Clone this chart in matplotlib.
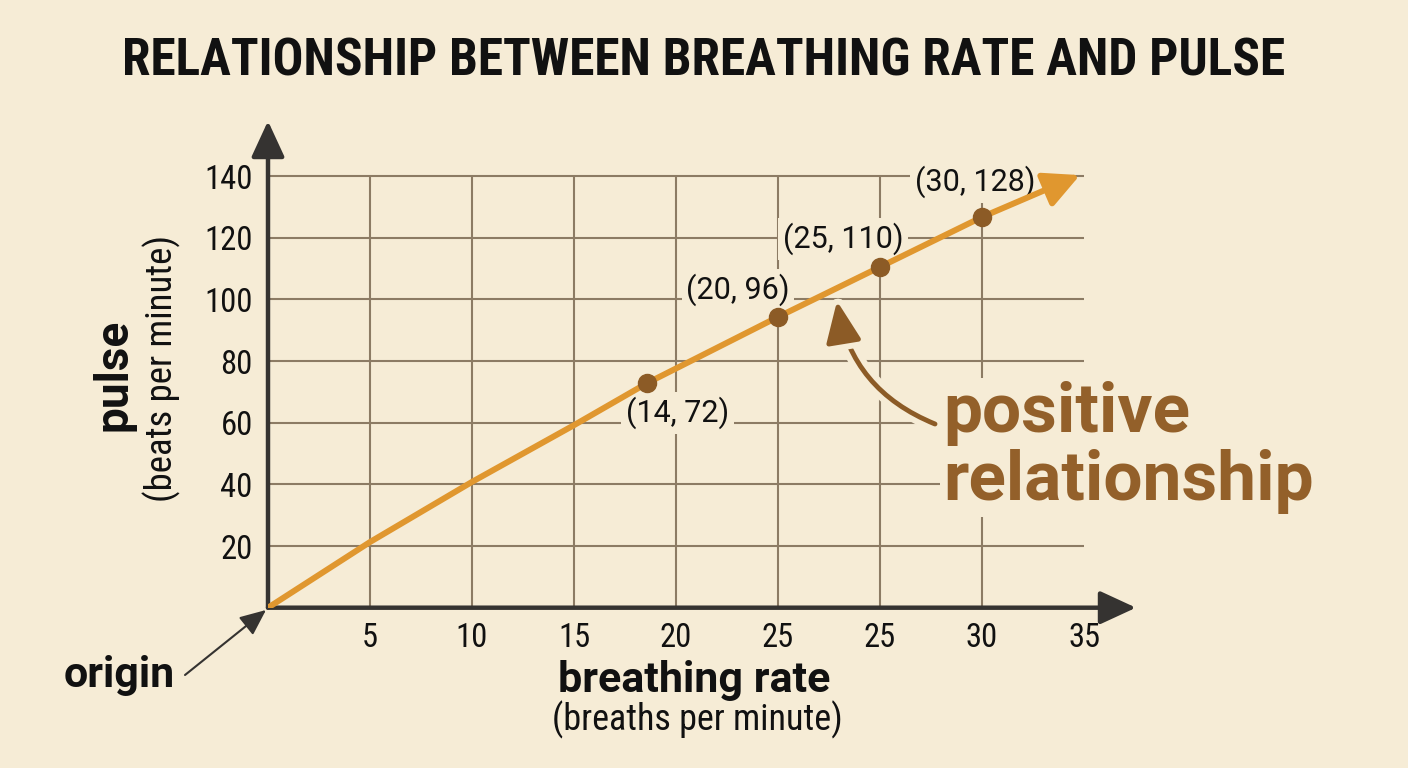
import matplotlib
matplotlib.use('Agg')
import matplotlib.pyplot as plt
from matplotlib import patheffects as pe
from matplotlib import font_manager
from matplotlib.patches import FancyArrowPatch

W, H = 1408, 768
BG = '#F6ECD6'
GRID = '#8C7B64'
AXIS = '#353331'
ORANGE = '#E0972F'
BROWN = '#8C5B26'
TXT_BROWN = '#93602A'

# condensed face if there is one, otherwise plain Roboto set a bit smaller
_names = {f.name for f in font_manager.fontManager.ttflist}
HAS_COND = 'Roboto Condensed' in _names
NARROW = ['Roboto Condensed', 'Roboto'] if HAS_COND else ['Roboto', 'DejaVu Sans']
BOLD = ['Roboto', 'DejaVu Sans']
title_size = 37 if HAS_COND else 33
sub_size = 26 if HAS_COND else 23.5
tick_size = 23.5 if HAS_COND else 21.5

# data (x in grid units, 5 per column)
x_ticks = [5, 10, 15, 20, 25, 30, 35, 40]
x_tick_labels = ['5', '10', '15', '20', '25', '25', '30', '35']
y_ticks = [20, 40, 60, 80, 100, 120, 140]
y_tick_labels = ['20', '40', '60', '80', '100', '120', '140']

curve_x = [0, 5, 10, 15, 18.6, 25, 30, 35, 39.8]
curve_y = [0, 21.3, 40.8, 59.2, 72.9, 94.3, 110.5, 126.7, 140.3]

point_x = [18.6, 25, 30, 35]
point_y = [72.9, 94.3, 110.5, 126.7]
point_labels = ['(14, 72)', '(20, 96)', '(25, 110)', '(30, 128)']

fig = plt.figure(figsize=(W / 100, H / 100), dpi=100, facecolor=BG)

# axes placed so that 5 units = 102 px on x and 20 units = 61.7 px on y
x0, y0 = 268, 607.7
px_x, px_y = 20.4, 3.0833
xmax = (1140 - x0) / px_x
ymax = 160
ax = fig.add_axes([x0 / W, (H - y0) / H, (1140 - x0) / W, ymax * px_y / H])
ax.set_xlim(0, xmax)
ax.set_ylim(0, ymax)
ax.patch.set_visible(False)
for s in ax.spines.values():
    s.set_visible(False)

# grid
ax.hlines(y_ticks, 0, x_ticks[-1], color=GRID, lw=1.5, zorder=1)
ax.vlines(x_ticks[:-1], 0, y_ticks[-1], color=GRID, lw=1.5, zorder=1)

# axis arrows
arr = dict(arrowstyle='-|>,head_length=1.3,head_width=0.6', mutation_scale=17,
           lw=3.2, color=AXIS, shrinkA=0, shrinkB=0)
ax.annotate('', xy=(0, (y0 - 121) / px_y), xytext=(0, 0), arrowprops=arr,
            annotation_clip=False, zorder=2)
ax.annotate('', xy=((1136 - x0) / px_x, 0), xytext=(0, 0), arrowprops=arr,
            annotation_clip=False, zorder=2)

# ticks
ax.set_xticks(x_ticks, x_tick_labels)
ax.set_yticks(y_ticks, y_tick_labels)
ax.tick_params(length=0, labelsize=tick_size, colors='#111111')
ax.tick_params(axis='x', pad=10)
ax.tick_params(axis='y', pad=11)
for lab in ax.get_xticklabels() + ax.get_yticklabels():
    lab.set_family(NARROW)

# point labels sit under the line so their backing only hides grid
offsets = [(30, -30), (-40, 27), (-37, 28), (-7, 35)]
for px, py, lbl, off in zip(point_x, point_y, point_labels, offsets):
    ax.annotate(lbl, (px, py), xytext=off, textcoords='offset pixels',
                ha='center', va='center', fontsize=22, family=BOLD,
                color='#111111', zorder=2.5,
                bbox=dict(boxstyle='square,pad=0.15', fc=BG, ec='none'))

# orange curve with arrow end
ax.plot(curve_x[:-1], curve_y[:-1], color=ORANGE, lw=4.3,
        solid_capstyle='round', solid_joinstyle='round', zorder=3)
ax.annotate('', xy=(curve_x[-1], curve_y[-1]), xytext=(curve_x[-2], curve_y[-2]),
            arrowprops=dict(arrowstyle='-|>,head_length=1.2,head_width=0.6',
                            mutation_scale=18, lw=4.3, color=ORANGE,
                            shrinkA=0, shrinkB=0), zorder=3)

ax.plot(point_x, point_y, 'o', ms=13, color=BROWN, zorder=4)

# curved pointer to the line
ax.annotate('', xy=((837 - x0) / px_x, (y0 - 301) / px_y),
            xytext=((935 - x0) / px_x, (y0 - 424) / px_y),
            arrowprops=dict(arrowstyle='-|>,head_length=1.4,head_width=0.6',
                            mutation_scale=18, lw=3.5, color=BROWN,
                            connectionstyle='arc3,rad=-0.28', shrinkA=0, shrinkB=0,
                            path_effects=[pe.withStroke(linewidth=12, foreground=BG)]),
            zorder=4)


def ftext(x, y, s, **kw):
    return fig.text(x / W, 1 - y / H, s, **kw)


ftext(704, 76, 'RELATIONSHIP BETWEEN BREATHING RATE AND PULSE', ha='center',
      va='baseline', fontsize=title_size, fontweight='bold', family=NARROW,
      color='#111111')

ftext(113, 375, 'pulse', rotation=90, ha='center', va='center', fontsize=33,
      fontweight='bold', family=BOLD, color='#111111')
ftext(162, 368, '(beats per minute)', rotation=90, ha='center', va='center',
      fontsize=sub_size + 0.5, family=NARROW, color='#111111')

ftext(694, 692, 'breathing rate', ha='center', va='baseline', fontsize=31,
      fontweight='bold', family=BOLD, color='#111111')
ftext(697, 730, '(breaths per minute)', ha='center', va='baseline',
      fontsize=sub_size, family=NARROW, color='#111111')

ftext(64, 687, 'origin', ha='left', va='baseline', fontsize=31,
      fontweight='bold', family=BOLD, color='#111111')
fig.add_artist(FancyArrowPatch(
    (185, H - 675), (266, H - 610), transform=None,
    arrowstyle='-|>,head_length=0.8,head_width=0.35', mutation_scale=20,
    lw=1.5, color=AXIS, shrinkA=0, shrinkB=0))

bb = dict(boxstyle='square,pad=0.05', fc=BG, ec='none')
ftext(943, 432, 'positive', ha='left', va='baseline', fontsize=50,
      fontweight='bold', family=BOLD, color=TXT_BROWN, bbox=bb)
ftext(943, 500, 'relationship', ha='left', va='baseline', fontsize=50,
      fontweight='bold', family=BOLD, color=TXT_BROWN, bbox=bb)

fig.savefig('out.png', dpi=100, facecolor=BG)
